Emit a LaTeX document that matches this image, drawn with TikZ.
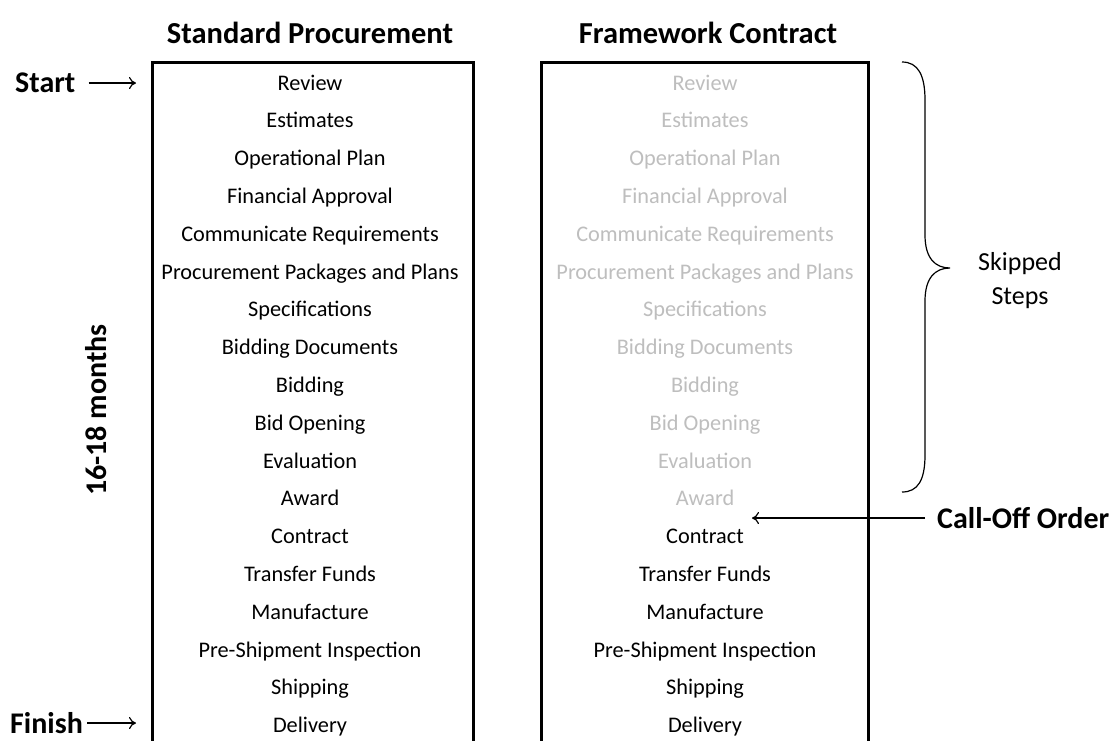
\documentclass[tikz,border=0pt]{standalone}
\usepackage{fontspec}
\setmainfont{Carlito}
\usetikzlibrary{arrows.meta}
\definecolor{skip}{RGB}{190,190,190}
\tikzset{
  item/.style={anchor=base, inner sep=0pt, font=\fontsize{22.3}{24}\selectfont},
  skipitem/.style={item, text=skip},
  head/.style={anchor=base, inner sep=0pt, font=\fontsize{30.5}{32}\selectfont\bfseries},
  side/.style={inner sep=0pt, font=\fontsize{30}{32}\selectfont\bfseries},
  frame/.style={draw=black, line width=3pt},
  pointer/.style={draw=black, line width=1.2pt, -{To[length=7pt,width=12pt,line width=1.2pt]}},
  bracestyle/.style={draw=black, line width=1.2pt},
}
\begin{document}
\begin{tikzpicture}[x=1pt,y=-1pt]
\useasboundingbox (0,0) rectangle (1117,740);
\clip (0,0) rectangle (1117,740);
\fill[white] (0,0) rectangle (1117,740);
% headers
\node[head] (h1) at (310,43.5) {Standard Procurement};
\node[head] (h2) at (708,43.5) {Framework Contract};
% boxes
\draw[frame] (152,62) rectangle (473,760);
\draw[frame] (541,62) rectangle (868,760);
% left column
\foreach \t [count=\i] in {Review,Estimates,Operational Plan,Financial Approval,Communicate Requirements,Procurement Packages and Plans,Specifications,Bidding Documents,Bidding,Bid Opening,Evaluation,Award,Contract,Transfer Funds,Manufacture,Pre-Shipment Inspection,Shipping,Delivery}{
  \node[item] (L\i) at (310,{90+(\i-1)*37.8}) {\t};
}
% right column (skipped)
\foreach \t [count=\i] in {Review,Estimates,Operational Plan,Financial Approval,Communicate Requirements,Procurement Packages and Plans,Specifications,Bidding Documents,Bidding,Bid Opening,Evaluation,Award}{
  \node[skipitem] (R\i) at (705,{90+(\i-1)*37.8}) {\t};
}
\foreach \t [count=\i from 13] in {Contract,Transfer Funds,Manufacture,Pre-Shipment Inspection,Shipping,Delivery}{
  \node[item] (R\i) at (705,{90+(\i-1)*37.8}) {\t};
}
% start / finish
\node[side, anchor=west] (start) at (15,83) {Start};
\coordinate (startend) at (136,83);
\draw[pointer] (start.east) ++(13,0) coordinate (s0) (s0) -- (startend);
\node[side, anchor=west] (finish) at (10,723) {Finish};
\coordinate (finishend) at (136,723);
\draw[pointer] (finish.east) ++(4,0) coordinate (f0) (f0) -- (finishend);
% duration
\node[side, rotate=90] (dur) at (96,410) {16-18 months};
% call-off order
\node[side, anchor=west] (call) at (937,518) {Call-Off Order};
\coordinate (callend) at (752,518);
\draw[pointer] (call.west) ++(-12,0) coordinate (c0) (c0) -- (callend);
% brace
\draw[bracestyle] (902,62) .. controls (918,62) and (925,75) .. (925,100) -- (925,235)
  .. controls (925,258) and (935,268) .. (950,268)
  .. controls (935,268) and (925,278) .. (925,301) -- (925,455)
  .. controls (925,480) and (918,492) .. (902,492);
\node[align=center, inner sep=0pt, font=\fontsize{26}{34}\selectfont] (skipped) at (1020,281) {Skipped\\Steps};
\end{tikzpicture}
\end{document}
